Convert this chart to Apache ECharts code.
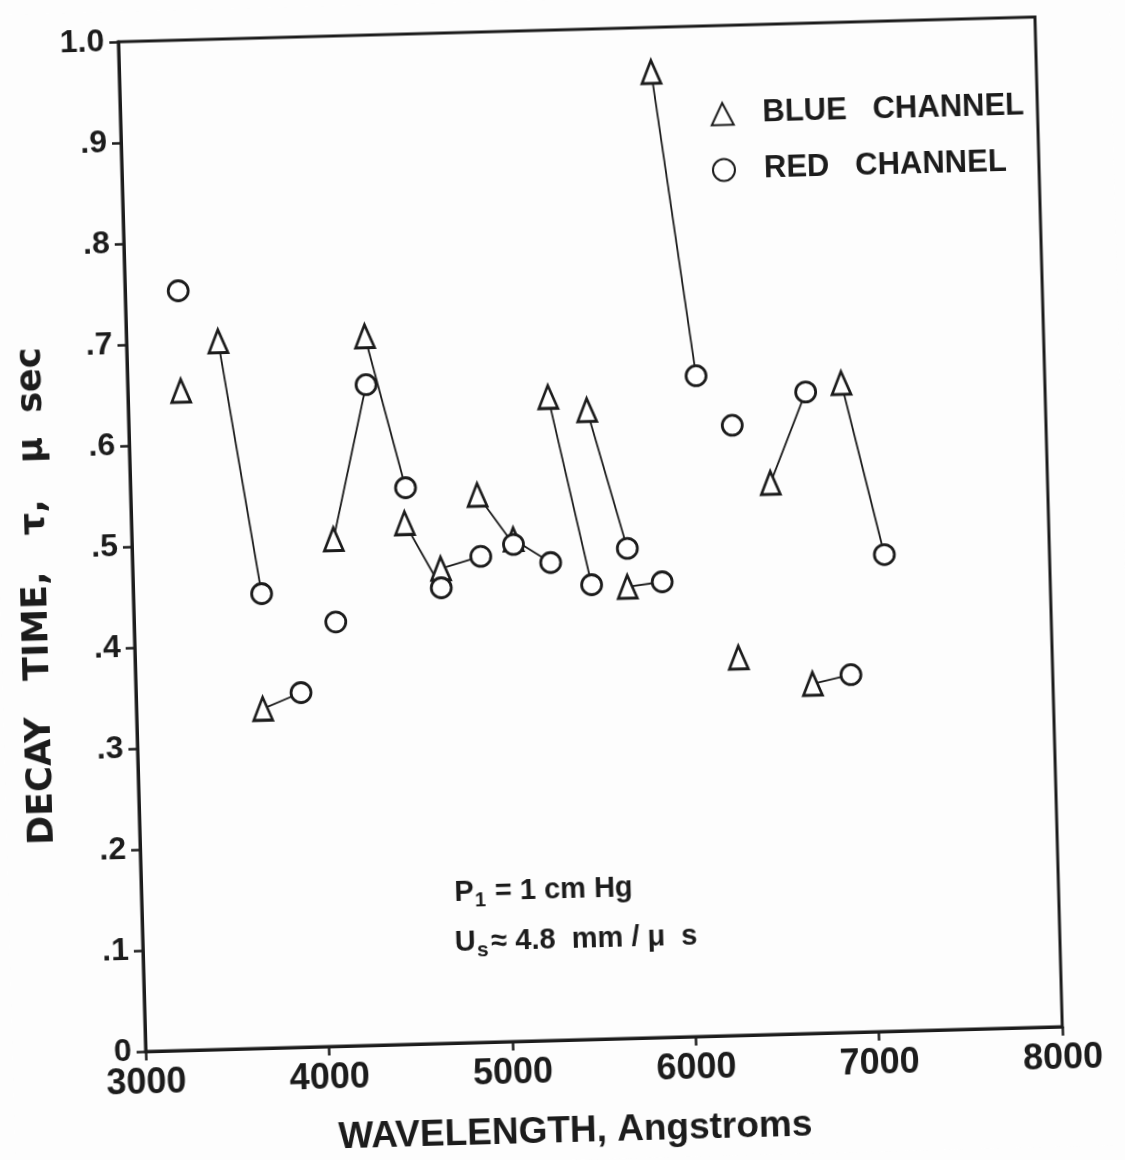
<!DOCTYPE html>
<html>
<head>
<meta charset="utf-8">
<script src="https://cdn.jsdelivr.net/npm/echarts@6/dist/echarts.min.js"></script>
<style>
  html, body { margin: 0; padding: 0; background: #fdfdfd; }
  #chart {
    width: 1125px;
    height: 1160px;
    /* the plotted sheet sits slightly tilted */
    transform: rotate(-1.55deg);
    transform-origin: 562.5px 580px;
  }
</style>
</head>
<body>
<div id="chart"></div>
<script>
// Decay time (microseconds) versus wavelength (Angstroms), blue-channel readings
const blueWavelength = [3290, 3500, 3690, 4100, 4300, 4490, 4680, 4890, 5080, 5290, 5500, 5695, 5900, 6290, 6490, 6690, 6890];
const blueTau        = [0.653, 0.701, 0.336, 0.502, 0.702, 0.516, 0.470, 0.542, 0.497, 0.637, 0.623, 0.447, 0.956, 0.374, 0.546, 0.346, 0.643];

// Red-channel readings
const redWavelength = [3290, 3700, 3900, 4100, 4300, 4500, 4680, 4900, 5080, 5280, 5500, 5700, 5885, 6100, 6290, 6695, 6900, 7100];
const redTau        = [0.752, 0.450, 0.351, 0.420, 0.654, 0.551, 0.451, 0.481, 0.492, 0.473, 0.450, 0.485, 0.451, 0.654, 0.604, 0.635, 0.354, 0.472];

// Readings taken together: index into the blue arrays and index into the red arrays
const pairBlue = [1, 2, 3, 4, 5, 6, 7, 8, 9, 10, 11, 12, 14, 15, 16];
const pairRed  = [1, 2, 4, 5, 6, 7, 8, 9, 10, 11, 12, 13, 15, 16, 17];

const xTickLabels = ['3000', '4000', '5000', '6000', '7000', '8000'];
const yTickLabels = ['0', '.1', '.2', '.3', '.4', '.5', '.6', '.7', '.8', '.9', '1.0'];

const INK = '#1c1c1c';
const FONT = "'Liberation Sans', Arial, sans-serif";
const WIDE = "'DejaVu Sans', 'Liberation Sans', sans-serif";

const blueData = blueWavelength.map((w, i) => [w, blueTau[i]]);
const redData = redWavelength.map((w, i) => [w, redTau[i]]);
const pairLines = pairBlue.map((b, k) => ({
  coords: [[blueWavelength[b], blueTau[b]], [redWavelength[pairRed[k]], redTau[pairRed[k]]]]
}));

const chart = echarts.init(document.getElementById('chart'), null, { renderer: 'canvas' });

chart.setOption({
  animation: false,
  backgroundColor: '#fdfdfd',
  grid: {
    left: 133, top: 30, width: 917, height: 1010,
    show: true, borderColor: INK, borderWidth: 3, backgroundColor: 'transparent'
  },
  xAxis: {
    type: 'value', min: 3000, max: 8000, interval: 1000,
    name: 'WAVELENGTH, Angstroms',
    nameLocation: 'middle', nameGap: 73,
    nameTextStyle: { fontFamily: FONT, fontWeight: 'bold', fontSize: 37, color: INK, padding: [0, 62, 0, 0] },
    axisLine: { show: true, lineStyle: { color: INK, width: 3 } },
    axisTick: { show: true, inside: false, length: 9, lineStyle: { color: INK, width: 2.5 } },
    axisLabel: {
      margin: 14, color: INK, fontFamily: FONT, fontWeight: 'bold', fontSize: 36,
      formatter: v => xTickLabels[Math.round((v - 3000) / 1000)]
    },
    splitLine: { show: false }
  },
  yAxis: {
    type: 'value', min: 0, max: 1, interval: 0.1,
    name: 'DECAY   TIME,   \u03c4,   \u03bc  sec',
    nameLocation: 'middle', nameGap: 79, nameRotate: 90,
    nameTextStyle: { fontFamily: WIDE, fontWeight: 'bold', fontSize: 35, color: INK, padding: [0, 94, 0, 0] },
    axisLine: { show: true, lineStyle: { color: INK, width: 3 } },
    axisTick: { show: true, inside: false, length: 9, lineStyle: { color: INK, width: 2.5 } },
    axisLabel: {
      margin: 14, color: INK, fontFamily: FONT, fontWeight: 'bold', fontSize: 32,
      formatter: v => yTickLabels[Math.round(v * 10)]
    },
    splitLine: { show: false }
  },
  legend: {
    data: ['BLUE CHANNEL', 'RED CHANNEL'],
    orient: 'vertical',
    left: 723, top: 103,
    itemWidth: 22, itemHeight: 22, itemGap: 25,
    padding: 0,
    formatter: name => '{g|}' + name.replace(' ', '   '),
    textStyle: {
      color: INK, fontFamily: FONT, fontWeight: 'bold', fontSize: 31,
      rich: { g: { width: 24 } }
    }
  },
  graphic: [
    {
      type: 'text', x: 446, y: 890,
      style: {
        text: '{m|P}{s|1}{m| = 1 cm Hg}',
        verticalAlign: 'middle', align: 'left',
        rich: {
          m: { fill: INK, fontFamily: FONT, fontWeight: 'bold', fontSize: 29 },
          s: { fill: INK, fontFamily: FONT, fontWeight: 'bold', fontSize: 20, padding: [16, 1, 0, 1] }
        }
      }
    },
    {
      type: 'text', x: 445, y: 940,
      style: {
        text: '{m|U}{s|s}{m|\u2248 4.8  mm / \u03bc  s}',
        verticalAlign: 'middle', align: 'left',
        rich: {
          m: { fill: INK, fontFamily: FONT, fontWeight: 'bold', fontSize: 29 },
          s: { fill: INK, fontFamily: FONT, fontWeight: 'bold', fontSize: 21, padding: [16, 3, 0, 1] }
        }
      }
    }
  ],
  series: [
    {
      type: 'lines',
      coordinateSystem: 'cartesian2d',
      data: pairLines,
      silent: true,
      z: 2,
      lineStyle: { color: INK, width: 1.8, opacity: 1, curveness: 0 }
    },
    {
      name: 'BLUE CHANNEL',
      type: 'scatter',
      data: blueData,
      symbol: 'triangle',
      symbolSize: [19, 23],
      z: 3,
      itemStyle: { color: '#ffffff', borderColor: INK, borderWidth: 2.8, opacity: 1 }
    },
    {
      name: 'RED CHANNEL',
      type: 'scatter',
      data: redData,
      symbol: 'circle',
      symbolSize: 20,
      z: 3,
      itemStyle: { color: '#ffffff', borderColor: INK, borderWidth: 2.8, opacity: 1 }
    }
  ]
});
</script>
</body>
</html>
